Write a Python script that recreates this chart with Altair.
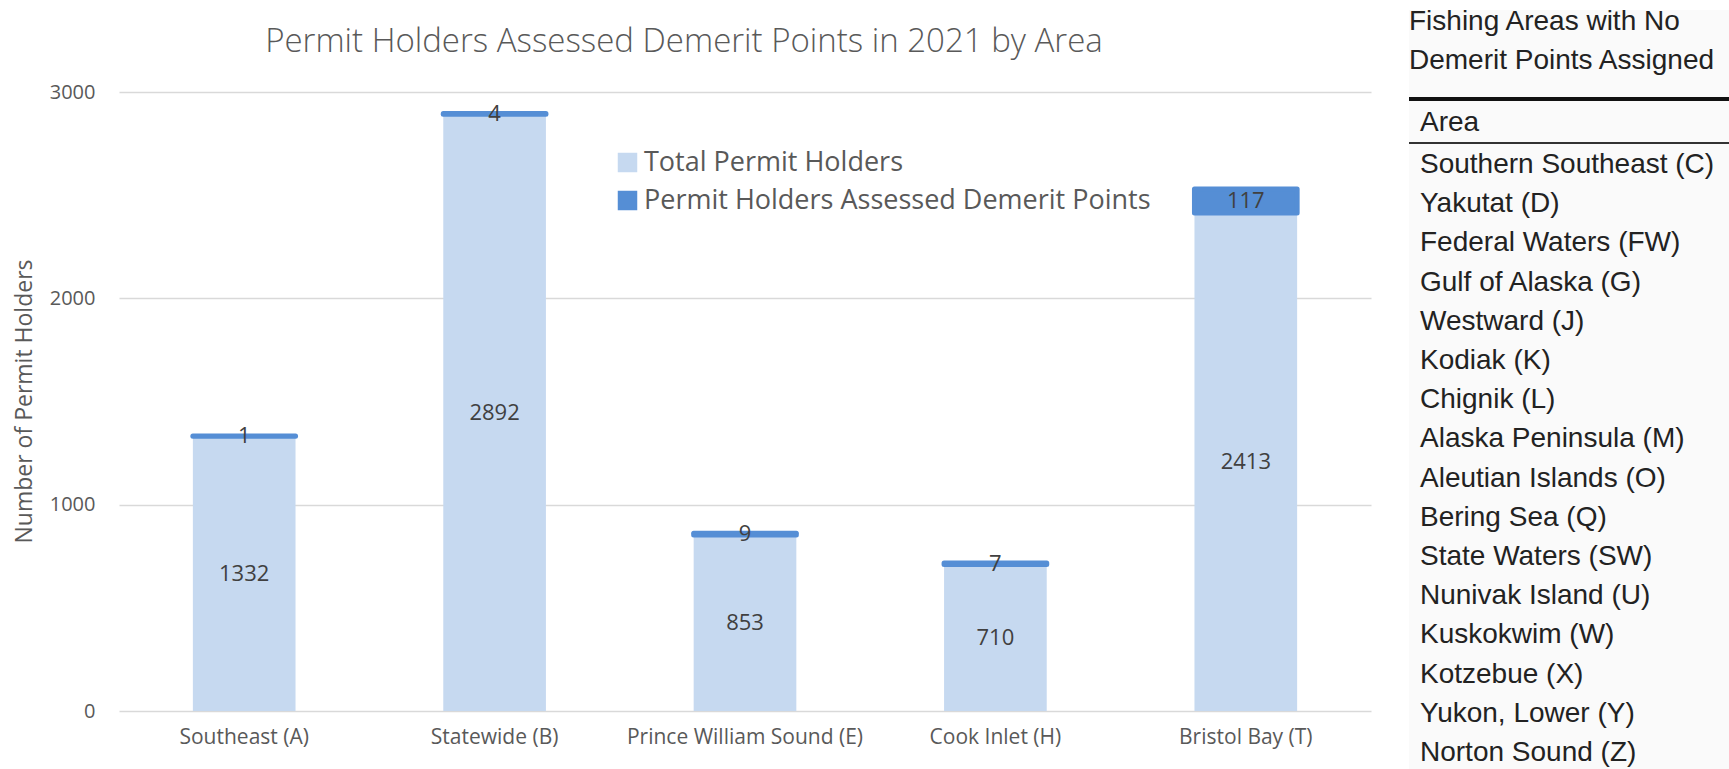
import altair as alt
import pandas as pd

# ---- data ----
areas = ["Southeast (A)", "Statewide (B)", "Prince William Sound (E)", "Cook Inlet (H)", "Bristol Bay (T)"]
total_holders = [1332, 2892, 853, 710, 2413]
demerit_holders = [1, 4, 9, 7, 117]
series_names = ["Total Permit Holders", "Permit Holders Assessed Demerit Points"]
series_colors = ["#c6d9f0", "#558ed5"]

no_demerit_areas = [
    "Southern Southeast (C)", "Yakutat (D)", "Federal Waters (FW)", "Gulf of Alaska (G)",
    "Westward (J)", "Kodiak (K)", "Chignik (L)", "Alaska Peninsula (M)",
    "Aleutian Islands (O)", "Bering Sea (Q)", "State Waters (SW)", "Nunivak Island (U)",
    "Kuskokwim (W)", "Kotzebue (X)", "Yukon, Lower (Y)", "Norton Sound (Z)",
]
y_ticks = [0, 1000, 2000, 3000]

# ---- build long table ----
rows = []
for a, t, d in zip(areas, total_holders, demerit_holders):
    rows.append({"area": a, "series": series_names[0], "start": 0, "end": t, "value": t})
    rows.append({"area": a, "series": series_names[1], "start": t, "end": t + d, "value": d})
df = pd.DataFrame(rows)
df["mid"] = (df["start"] + df["end"]) / 2

FONT = "Open Sans"
GREY = "#595959"
W, H = 1252, 619

xenc = alt.X("area:N", sort=areas, title=None,
             scale=alt.Scale(paddingInner=0.59, paddingOuter=0.295),
             axis=alt.Axis(labelAngle=0, labelFontSize=21, labelFont=FONT, labelColor=GREY,
                           labelPadding=15, labelLimit=400, ticks=False, domain=False))
yscale = alt.Scale(domain=[0, 3000], nice=False)
color = alt.Color("series:N", scale=alt.Scale(domain=series_names, range=series_colors),
                  legend=alt.Legend(title=None, orient="none", legendX=495, legendY=57,
                                    symbolType="square", symbolSize=380, symbolStrokeWidth=0,
                                    labelFont=FONT, labelFontSize=27, labelColor=GREY,
                                    rowPadding=10, labelOffset=3, labelLimit=700))

base = alt.Chart(df)
light = base.transform_filter(alt.datum.series == series_names[0]).mark_bar().encode(
    x=xenc,
    y=alt.Y("start:Q", scale=yscale, title="Number of Permit Holders",
            axis=alt.Axis(values=y_ticks, format="d", grid=True, gridColor="#d9d9d9", gridWidth=1.5,
                          domain=False, ticks=False, labelFont=FONT, labelFontSize=20,
                          labelColor=GREY, labelPadding=24, titleFont=FONT, titleFontSize=23,
                          titleColor=GREY, titleFontWeight="normal", titleX=-95, titleY=309,
                          titleAngle=270, titleBaseline="middle", titleAlign="center")),
    y2="end:Q",
    color=color,
)
dark = base.transform_filter(alt.datum.series == series_names[1]).mark_bar(
    stroke=series_colors[1], strokeWidth=5, strokeJoin="round"
).encode(
    x=alt.X("area:N", sort=areas),
    y=alt.Y("start:Q", scale=yscale),
    y2="end:Q",
    color=color,
)
labels = base.mark_text(font=FONT, fontSize=22, color="#404040", baseline="middle").encode(
    x=alt.X("area:N", sort=areas),
    y=alt.Y("mid:Q", scale=yscale),
    text="value:Q",
)
title = alt.Chart(pd.DataFrame({"t": ["Permit Holders Assessed Demerit Points in 2021 by Area"]})).mark_text(
    font=FONT, fontSize=33, fontWeight=300, color=GREY, align="center", baseline="middle"
).encode(x=alt.value(565), y=alt.value(-50), text="t:N")

main = alt.layer(light, dark, labels, title)

# ---- side table ----
one = pd.DataFrame({"a": [0]})
TF = "Liberation Sans"
TC = "#222222"
bg = alt.Chart(one).mark_rect(color="#fafafa").encode(
    x=alt.value(1290), x2=alt.value(1610), y=alt.value(-82), y2=alt.value(677))
head1 = alt.Chart(one).mark_text(text="Fishing Areas with No", font=TF, fontSize=28,
                                 color=TC, align="left", baseline="middle").encode(
    x=alt.value(1290), y=alt.value(-70))
head2 = alt.Chart(one).mark_text(text="Demerit Points Assigned", font=TF, fontSize=28,
                                 color=TC, align="left", baseline="middle").encode(
    x=alt.value(1290), y=alt.value(-31))
thick = alt.Chart(one).mark_rule(color="#111111", strokeWidth=4).encode(
    x=alt.value(1290), x2=alt.value(1610), y=alt.value(7))
thin = alt.Chart(one).mark_rule(color="#333333", strokeWidth=2).encode(
    x=alt.value(1290), x2=alt.value(1610), y=alt.value(51))
area_head = alt.Chart(one).mark_text(text="Area", font=TF, fontSize=28,
                                     color=TC, align="left", baseline="middle").encode(
    x=alt.value(1301), y=alt.value(31))
tdf = pd.DataFrame({"name": no_demerit_areas, "idx": list(range(len(no_demerit_areas)))})
table_rows = alt.Chart(tdf).mark_text(font=TF, fontSize=28, color=TC,
                                      align="left", baseline="middle").encode(
    x=alt.value(1301),
    y=alt.Y("idx:Q", scale=alt.Scale(domain=[0, 15], range=[73, 661]), axis=None),
    text="name:N",
)
table = alt.layer(bg, head1, head2, thick, thin, area_head, table_rows)

chart = alt.layer(main, table).resolve_scale(y="independent").properties(
    width=W, height=H,
    autosize=alt.AutoSizeParams(type="none"),
    padding={"left": 119, "top": 92, "right": 358, "bottom": 58},
    background="white",
).configure_view(stroke=None)

chart.save("out.html", embed_options={"renderer": "svg", "actions": False})
